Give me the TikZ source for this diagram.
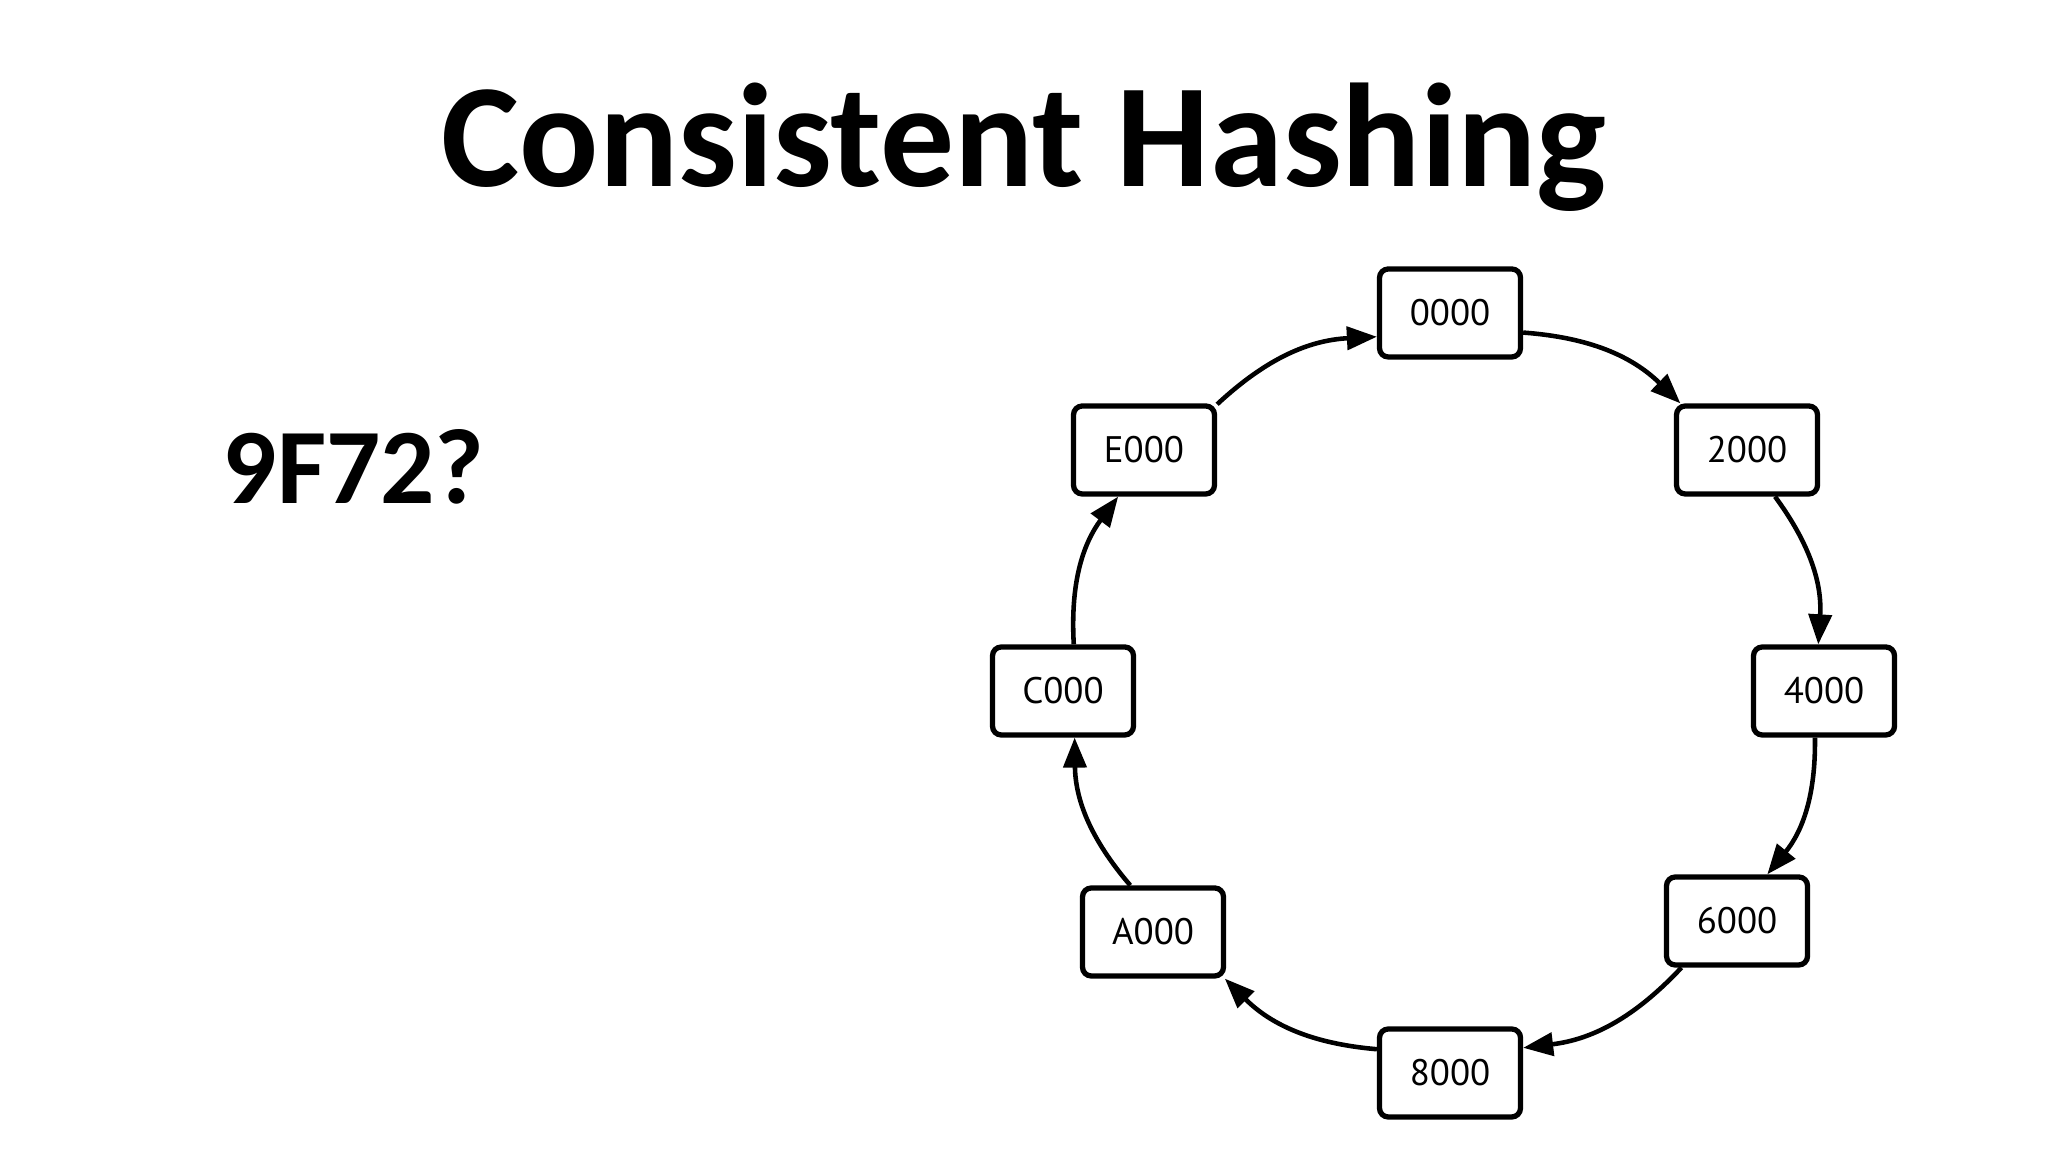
\documentclass[tikz,border=0pt]{standalone}
\usepackage{fontspec}
\setmainfont{Carlito}
\newfontfamily\handfont{PT Sans}
\usetikzlibrary{arrows.meta}
\begin{document}
\begin{tikzpicture}[x=0.1mm,y=0.1mm,
  keybox/.style={draw, line width=1.5pt, rounded corners=2.5pt, minimum width=14.1mm,
    minimum height=8.8mm, inner sep=0pt, font=\handfont\fontsize{10.5}{13}\selectfont},
  ring/.style={line width=1.3pt, -{Triangle[length=3mm,width=2.3mm]}, bend left=20}]
\useasboundingbox (0,0) rectangle (2048,1152);
\node[anchor=base, inner sep=0pt, font=\bfseries\fontsize{42}{50}\selectfont] (title) at (1024,965) {Consistent Hashing};
\node[anchor=base west, inner sep=0pt, font=\bfseries\fontsize{30.5}{36}\selectfont] (q) at (222,648) {9F72?};
\node[keybox] (n0) at (1450,839) {0000};
\node[keybox] (n2) at (1747,702) {2000};
\node[keybox] (n4) at (1824,461) {4000};
\node[keybox] (n6) at (1737,231) {6000};
\node[keybox] (n8) at (1450,79) {8000};
\node[keybox] (nA) at (1153,220) {A000};
\node[keybox] (nC) at (1063,461) {C000};
\node[keybox] (nE) at (1144,702) {E000};
\draw[ring] (n0.-15) to (n2.145);
\draw[ring] (n2.-59) to (n4.97);
\draw[ring] (n4.-101) to (n6.57);
\draw[ring] (n6.-140) to (n8.19);
\draw[ring] (n8.162) to (nA.-33);
\draw[ring] (nA.116) to (nC.-76);
\draw[ring] (nC.77) to (nE.-119);
\draw[ring] (nE.32) to (n0.-162);
\end{tikzpicture}
\end{document}
